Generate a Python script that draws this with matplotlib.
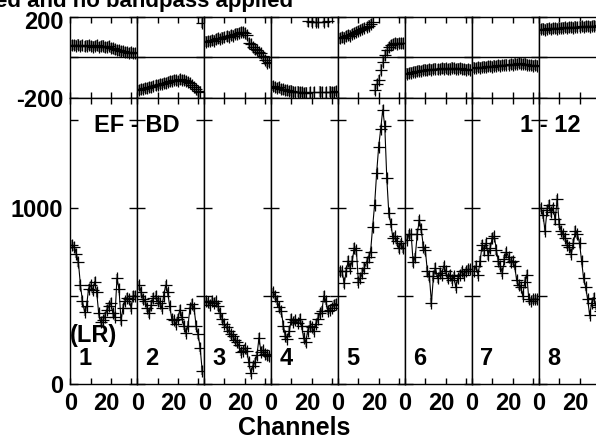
import matplotlib
matplotlib.use('Agg')
import matplotlib.pyplot as plt
import matplotlib.transforms as mtransforms

plt.rcParams['font.family'] = ['Liberation Sans', 'DejaVu Sans']
plt.rcParams['font.weight'] = 'bold'

# channel numbers (same for every panel)
channels = list(range(1, 33))

# panel labels
panel_names = ['1', '2', '3', '4', '5', '6', '7', '8']

# amplitude per panel
amp1 = [790, 780, 740, 690, 560, 470, 410, 440, 540, 560, 530, 580, 520, 400, 350, 360,
        380, 420, 440, 460, 400, 380, 600, 540, 360, 430, 470, 490, 480, 430, 500, 500]
amp2 = [560, 520, 480, 470, 430, 400, 450, 490, 500, 470, 460, 430, 500, 560, 520, 440,
        370, 360, 340, 370, 420, 380, 330, 290, 330, 430, 455, 430, 330, 280, 205, 74]
amp3 = [470, 462, 450, 470, 460, 470, 440, 400, 370, 340, 320, 300, 280, 270, 250, 235,
        220, 180, 185, 200, 185, 120, 60, 100, 120, 160, 260, 180, 190, 170, 160, 155]
amp4 = [520, 500, 470, 434, 415, 330, 273, 256, 300, 370, 350, 360, 345, 370, 330, 260,
        235, 300, 330, 320, 300, 340, 370, 400, 415, 500, 470, 415, 420, 430, 450, 455]
amp5 = [640, 640, 570, 640, 700, 660, 700, 775, 760, 580, 600, 630, 660, 690, 720, 750,
        890, 1020, 1200, 1350, 1450, 1560, 1470, 1170, 970, 910, 830, 840, 810, 770, 800, 770]
amp6 = [820, 850, 850, 690, 720, 850, 930, 880, 780, 760, 640, 610, 460, 610, 660, 600,
        630, 620, 670, 640, 600, 620, 590, 610, 550, 600, 620, 640, 620, 640, 650, 650]
amp7 = [640, 670, 620, 700, 790, 760, 800, 730, 770, 830, 840, 760, 700, 670, 630, 710,
        750, 720, 690, 700, 670, 590, 560, 550, 500, 580, 620, 480, 470, 480, 480, 480]
amp8 = [1000, 960, 870, 990, 1020, 975, 1000, 935, 1050, 910, 870, 850, 830, 790, 780, 740,
        800, 870, 850, 800, 700, 600, 550, 480, 390, 460, 490, 445, 435, 415, 420, 430]

# phase per panel (degrees)
ph1 = [60, 62, 58, 63, 57, 60, 55, 58, 62, 56, 54, 57, 60, 52, 55, 58,
       50, 53, 56, 48, 45, 40, 38, 35, 30, 33, 28, 25, 22, 27, 20, 22]
ph2 = [-160, -158, -155, -150, -152, -145, -148, -140, -138, -135, -130, -132, -125, -128, -120, -118,
       -115, -112, -110, -115, -108, -112, -110, -115, -120, -125, -135, -145, -155, -165, -168, 172]
ph3 = [78, 80, 82, 85, 83, 90, 95, 92, 98, 100, 105, 103, 110, 108, 115, 118,
       120, 125, 127, 122, 110, 70, 65, 50, 40, 37, 25, 20, 5, -12, -25, -20]
ph4 = [-140, -145, -150, -148, -155, -158, -160, -162, -165, -163, -168, -170, -168, -172, -170, -175,
       -173, 178, -172, 176, -170, 177, 175, -168, -170, 176, -172, 178, -168, -170, -172, -165]
ph5 = [95, 100, 98, 105, 110, 108, 115, 120, 125, 130, 135, 140, 145, 150, 158, 165,
       175, -160, -130, -110, -60, -20, 10, 35, 50, 60, 65, 70, 68, 72, 70, 70]
ph6 = [-80, -78, -75, -72, -70, -68, -65, -66, -62, -60, -63, -58, -60, -57, -55, -58,
       -56, -54, -55, -52, -58, -55, -50, -53, -57, -55, -52, -55, -58, -60, -57, -60]
ph7 = [-50, -52, -48, -50, -47, -45, -48, -44, -42, -45, -40, -42, -38, -40, -36, -38,
       -35, -37, -33, -35, -30, -32, -28, -30, -33, -30, -35, -38, -36, -40, -38, -40]
ph8 = [140, 142, 138, 143, 145, 141, 144, 146, 143, 147, 145, 148, 150, 146, 149, 151,
       148, 152, 150, 153, 155, 151, 154, 156, 152, 155, 158, 156, 157, 160, 158, 155]

amps = [amp1, amp2, amp3, amp4, amp5, amp6, amp7, amp8]
phases = [ph1, ph2, ph3, ph4, ph5, ph6, ph7, ph8]

amp_err = 25
ph_err = 26

W, H = 596, 440
fig = plt.figure(figsize=(W / 100, H / 100), dpi=100)


def box(x0, y_top, w, h):
    # pixel box -> figure fraction
    return [x0 / W, 1 - (y_top + h) / H, w / W, h / H]


def fx(x):
    return x / W


def fy(y):
    return 1 - y / H


x_left = 70.3
pw = 66.95
fs = 17

for i in range(8):
    x0 = x_left + pw * i
    axp = fig.add_axes(box(x0, 17, pw, 81))
    axa = fig.add_axes(box(x0, 98, pw, 285.5))

    # phase
    axp.errorbar(channels, phases[i], yerr=ph_err, fmt='none', ecolor='#8a8a8a', elinewidth=1.6)
    axp.plot(channels, phases[i], '+', color='black', ms=9, mew=0.9)
    axp.axhline(0, color='black', lw=1)
    axp.set_ylim(-200, 200)
    axp.set_yticks([-200, 0, 200])

    # amplitude
    axa.errorbar(channels, amps[i], yerr=amp_err, fmt='none', ecolor='#8a8a8a', elinewidth=1.6)
    axa.plot(channels, amps[i], '-', color='black', lw=0.8)
    axa.plot(channels, amps[i], '+', color='black', ms=9, mew=0.9)
    axa.set_ylim(0, 1627)
    axa.set_yticks([0, 500, 1000, 1500])

    for ax in (axp, axa):
        ax.set_xlim(0, 33)
        ax.set_xticks([0, 10, 20, 30])
        ax.tick_params(axis='x', direction='in', length=4, width=1, top=True, bottom=True,
                       labelsize=fs, pad=6)
        ax.tick_params(axis='y', direction='in', length=6, width=1, left=True, right=True,
                       labelsize=fs, pad=5)
        for s in ax.spines.values():
            s.set_linewidth(1)
        ax.set_xticklabels([])
        ax.set_yticklabels([])

    axa.set_xticklabels(['0', '', '20', ''])
    # AIPS draws the "20" a few pixels left of its tick
    lab = axa.get_xticklabels()[2]
    lab.set_transform(lab.get_transform() + mtransforms.ScaledTranslation(-4.5 / 100, 0, fig.dpi_scale_trans))

    if i == 0:
        axa.set_yticklabels(['0', '', '1000', ''])
        axp.set_yticklabels(['-200', '', '200'])
        top = axp.get_yticklabels()[2]
        top.set_transform(top.get_transform() + mtransforms.ScaledTranslation(0, -3 / 100, fig.dpi_scale_trans))
        fig.text(fx(70), fy(342), '(LR)', fontsize=fs, va='baseline')

    fig.text(fx(x0 + 8), fy(365), panel_names[i], fontsize=fs, va='baseline')

fig.text(fx(94), fy(131.7), 'EF - BD', fontsize=fs, va='baseline')
fig.text(fx(519.5), fy(131.7), '1 - 12', fontsize=fs, va='baseline')
fig.text(fx(294), fy(435), 'Channels', fontsize=18, ha='center', va='baseline')
# title runs off the top-left corner, as in the original plot file
fig.text(fx(-5), fy(7), 'ed and no bandpass applied', fontsize=16, va='baseline')

plt.savefig('out.png', dpi=100)
